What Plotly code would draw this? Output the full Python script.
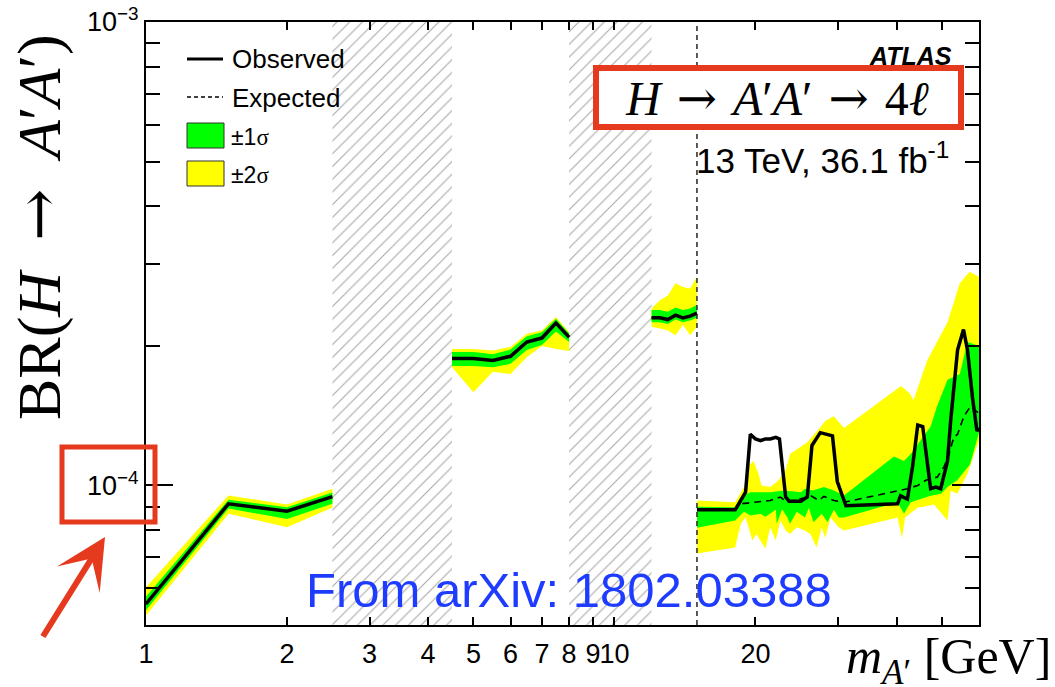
import math
import plotly.graph_objects as go

# ---------------- data ----------------
# segment 1 : 1 - 2.5 GeV
seg1_x = [1.0, 1.5, 2.0, 2.5]
seg1_obs = [5.55e-5, 9.13e-5, 8.80e-5, 9.46e-5]
seg1_exp = [5.55e-5, 9.13e-5, 8.80e-5, 9.46e-5]
seg1_g_up = [5.75e-5, 9.32e-5, 8.97e-5, 9.66e-5]
seg1_g_lo = [5.38e-5, 8.92e-5, 8.47e-5, 9.13e-5]
seg1_y_up = [6.03e-5, 9.52e-5, 9.10e-5, 9.84e-5]
seg1_y_lo = [5.24e-5, 8.69e-5, 8.13e-5, 8.96e-5]

# segment 2 : 4.5 - 8 GeV
seg2_x = [4.5, 5.0, 5.5, 6.0, 6.5, 7.0, 7.5, 8.0]
seg2_obs = [1.88e-4, 1.88e-4, 1.86e-4, 1.90e-4, 2.04e-4, 2.08e-4, 2.24e-4, 2.09e-4]
seg2_exp = [1.88e-4, 1.88e-4, 1.86e-4, 1.90e-4, 2.04e-4, 2.08e-4, 2.24e-4, 2.09e-4]
seg2_g_up = [1.94e-4, 1.94e-4, 1.92e-4, 1.965e-4, 2.10e-4, 2.14e-4, 2.29e-4, 2.13e-4]
seg2_g_lo = [1.81e-4, 1.81e-4, 1.80e-4, 1.83e-4, 1.96e-4, 2.01e-4, 2.15e-4, 2.04e-4]
seg2_y_up = [1.97e-4, 1.97e-4, 1.955e-4, 1.99e-4, 2.125e-4, 2.16e-4, 2.31e-4, 2.14e-4]
seg2_y_lo = [1.80e-4, 1.59e-4, 1.76e-4, 1.74e-4, 1.89e-4, 2.00e-4, 1.97e-4, 1.95e-4]

# segment 3 : 12 - 15 GeV
seg3_x = [12.0, 12.5, 13.0, 13.5, 14.0, 14.5, 15.0]
seg3_obs = [2.30e-4, 2.30e-4, 2.28e-4, 2.33e-4, 2.30e-4, 2.32e-4, 2.355e-4]
seg3_exp = [2.30e-4, 2.30e-4, 2.28e-4, 2.33e-4, 2.30e-4, 2.32e-4, 2.355e-4]
seg3_g_up = [2.39e-4, 2.39e-4, 2.37e-4, 2.42e-4, 2.39e-4, 2.41e-4, 2.45e-4]
seg3_g_lo = [2.25e-4, 2.25e-4, 2.23e-4, 2.28e-4, 2.25e-4, 2.27e-4, 2.30e-4]
seg3_y_up = [2.41e-4, 2.51e-4, 2.57e-4, 2.73e-4, 2.68e-4, 2.66e-4, 2.82e-4]
seg3_y_lo = [2.20e-4, 2.18e-4, 2.16e-4, 2.11e-4, 2.22e-4, 2.11e-4, 2.20e-4]

# segment 4 : 15 - 60 GeV
seg4_obs_x = [15.0, 18.1, 19.05, 19.5, 20.0, 20.5, 21.0, 21.5, 22.1, 22.5, 23.2, 23.6,
              25.0, 25.8, 26.4, 26.9, 27.5, 29.2, 29.9, 31.2, 40.2, 40.8, 42.2, 43.3,
              44.4, 45.5, 46.2, 47.3, 48.5, 49.7, 51.4, 52.2, 54.0, 55.6, 56.7, 58.1,
              59.4, 60.0]
seg4_obs = [8.86e-5, 8.86e-5, 9.67e-5, 1.29e-4, 1.26e-4, 1.25e-4, 1.26e-4, 1.26e-4,
            1.27e-4, 1.26e-4, 9.44e-5, 9.25e-5, 9.25e-5, 9.44e-5, 1.22e-4, 1.26e-4,
            1.30e-4, 1.28e-4, 1.02e-4, 9.04e-5, 9.13e-5, 9.50e-5, 9.34e-5, 1.10e-4,
            1.35e-4, 1.34e-4, 1.17e-4, 9.84e-5, 9.92e-5, 9.84e-5, 1.13e-4, 1.38e-4,
            1.96e-4, 2.17e-4, 1.96e-4, 1.55e-4, 1.31e-4, 1.33e-4]
seg4_exp_x = [15.0, 18.1, 18.6, 20.1, 21.5, 22.6, 23.4, 25.5, 26.2, 27.3, 28.0, 29.4,
              30.9, 40.5, 42.2, 44.4, 46.2, 48.9, 50.6, 51.8, 53.0, 54.0, 55.7, 57.5, 60.0]
seg4_exp = [8.86e-5, 8.86e-5, 9.13e-5, 9.20e-5, 9.28e-5, 9.44e-5, 9.20e-5, 9.41e-5,
            9.52e-5, 9.28e-5, 9.47e-5, 9.28e-5, 9.20e-5, 9.75e-5, 9.84e-5, 1.00e-4,
            1.026e-4, 1.043e-4, 1.10e-4, 1.17e-4, 1.27e-4, 1.29e-4, 1.41e-4, 1.48e-4, 1.43e-4]
seg4_g_up_x = [15.0, 18.1, 18.6, 19.5, 21.5, 23.0, 25.0, 25.5, 26.5, 28.0, 29.4, 30.9,
               39.5, 41.5, 42.9, 47.3, 48.8, 51.4, 54.6, 56.7, 60.0]
seg4_g_up = [9.00e-5, 8.97e-5, 9.44e-5, 9.67e-5, 9.67e-5, 9.75e-5, 9.67e-5, 9.84e-5,
             9.75e-5, 9.92e-5, 9.75e-5, 9.52e-5, 1.155e-4, 1.13e-4, 1.17e-4, 1.34e-4,
             1.48e-4, 1.69e-4, 1.74e-4, 2.04e-4, 2.00e-4]
seg4_g_lo_x = [15.0, 18.1, 18.9, 19.5, 20.5, 21.0, 22.1, 22.2, 22.8, 23.4, 23.7, 24.5,
               25.5, 26.0, 26.6, 27.7, 28.5, 29.4, 30.1, 30.9, 40.2, 41.5, 42.9, 45.7,
               47.3, 49.8, 51.4, 53.9, 57.4, 60.0]
seg4_g_lo = [8.11e-5, 8.40e-5, 8.78e-5, 8.61e-5, 8.69e-5, 8.56e-5, 8.86e-5, 8.27e-5,
             8.89e-5, 8.53e-5, 8.27e-5, 8.78e-5, 8.53e-5, 8.94e-5, 8.33e-5, 8.69e-5,
             8.33e-5, 8.86e-5, 8.53e-5, 8.53e-5, 9.20e-5, 8.69e-5, 9.20e-5, 9.40e-5,
             9.50e-5, 9.60e-5, 9.92e-5, 1.026e-4, 1.11e-4, 1.30e-4]
seg4_y_up_x = [15.0, 18.1, 18.9, 19.3, 19.8, 20.3, 20.6, 21.5, 22.4, 23.2, 23.7, 25.8,
               27.6, 28.2, 29.4, 30.9, 40.9, 42.7, 43.5, 46.5, 51.4, 54.6, 57.3, 60.0]
seg4_y_up = [9.28e-5, 9.20e-5, 9.92e-5, 1.10e-4, 1.13e-4, 1.06e-4, 1.00e-4, 9.92e-5,
             1.026e-4, 1.08e-4, 1.17e-4, 1.24e-4, 1.34e-4, 1.38e-4, 1.41e-4, 1.33e-4,
             1.64e-4, 1.58e-4, 1.53e-4, 1.86e-4, 2.25e-4, 2.73e-4, 2.89e-4, 2.82e-4]
seg4_y_lo_x = [15.0, 18.1, 18.6, 19.05, 19.7, 20.1, 21.0, 21.5, 22.1, 22.6, 23.2, 23.7,
               24.5, 25.5, 26.2, 27.0, 27.7, 28.2, 28.9, 30.1, 30.9, 40.2, 41.1, 41.7,
               44.4, 45.7, 48.1, 51.4, 52.2, 53.9, 56.7, 59.3, 60.0]
seg4_y_lo = [7.13e-5, 7.35e-5, 8.27e-5, 8.53e-5, 7.61e-5, 7.86e-5, 7.30e-5, 8.13e-5,
             7.61e-5, 8.40e-5, 8.00e-5, 7.86e-5, 8.13e-5, 8.00e-5, 7.86e-5, 7.35e-5,
             8.13e-5, 7.70e-5, 8.53e-5, 8.13e-5, 8.00e-5, 8.53e-5, 7.70e-5, 8.53e-5,
             8.96e-5, 9.00e-5, 9.10e-5, 8.40e-5, 9.75e-5, 9.60e-5, 1.06e-4, 1.21e-4, 1.25e-4]

# excluded (hatched) mass windows and the analysis boundary
hatch_from = [2.5, 8.0]
hatch_to = [4.5, 12.0]
boundary_mass = 15.0

# axes
x_range = [1.0, 60.0]
y_range = [5e-5, 1e-3]
x_tick_vals = [1, 2, 3, 4, 5, 6, 7, 8, 9, 10, 20, 30, 40, 50]
x_tick_text = ['1', '2', '3', '4', '5', '6', '7', '8', '9', '10', '20', '', '', '']
y_tick_vals = [1e-4, 1e-3]
y_tick_text = ['10<sup>\u22124</sup>', '10<sup>\u22123</sup>']
y_minor_vals = [6e-5, 7e-5, 8e-5, 9e-5, 2e-4, 3e-4, 4e-4, 5e-4, 6e-4, 7e-4, 8e-4, 9e-4]

# ---------------- helpers ----------------
W, H = 1055, 687
L, R, T, B = 146, 979, 22, 625


def px(x):
    return (x - L) / (R - L)


def py(y):
    return (B - y) / (B - T)


def joined(parts):
    xs, ys = [], []
    for x, y in parts:
        if xs:
            xs.append(None)
            ys.append(None)
        xs += list(x)
        ys += list(y)
    return xs, ys


def polygons(parts):
    xs, ys = [], []
    for xu, yu, xl, yl in parts:
        if xs:
            xs.append(None)
            ys.append(None)
        xs += list(xu) + list(reversed(xl))
        ys += list(yu) + list(reversed(yl))
    return xs, ys


SANS = 'Liberation Sans'
SERIF = 'Liberation Serif'
RED = '#e63a1f'
ARROW = '\u2004<span style="font-family:DejaVu Serif">\u2192</span>\u2004'
ARROW_Y = '\u2002<span style="font-family:DejaVu Serif">\u2192</span>\u2002'

fig = go.Figure()

# hatched excluded regions
hx, hy = [], []
for a, b in zip(hatch_from, hatch_to):
    if hx:
        hx.append(None)
        hy.append(None)
    hx += [a, b, b, a, a]
    hy += [y_range[0], y_range[0], y_range[1], y_range[1], y_range[0]]
fig.add_trace(go.Scatter(
    x=hx, y=hy, mode='lines', fill='toself', line=dict(width=0, color='rgba(0,0,0,0)'),
    fillcolor='white',
    fillpattern=dict(shape='/', fgcolor='#a8a8a8', bgcolor='white', size=9, solidity=0.12),
    hoverinfo='skip'))

# +-2 sigma band
yx, yy = polygons([
    (seg1_x, seg1_y_up, seg1_x, seg1_y_lo),
    (seg2_x, seg2_y_up, seg2_x, seg2_y_lo),
    (seg3_x, seg3_y_up, seg3_x, seg3_y_lo),
    (seg4_y_up_x, seg4_y_up, seg4_y_lo_x, seg4_y_lo),
])
fig.add_trace(go.Scatter(x=yx, y=yy, mode='lines', fill='toself', fillcolor='#ffff00',
                         line=dict(width=0, color='rgba(0,0,0,0)'), hoverinfo='skip'))

# +-1 sigma band
gx, gy = polygons([
    (seg1_x, seg1_g_up, seg1_x, seg1_g_lo),
    (seg2_x, seg2_g_up, seg2_x, seg2_g_lo),
    (seg3_x, seg3_g_up, seg3_x, seg3_g_lo),
    (seg4_g_up_x, seg4_g_up, seg4_g_lo_x, seg4_g_lo),
])
fig.add_trace(go.Scatter(x=gx, y=gy, mode='lines', fill='toself', fillcolor='#00ff00',
                         line=dict(width=0, color='rgba(0,0,0,0)'), hoverinfo='skip'))

# boundary dashed line
fig.add_trace(go.Scatter(x=[boundary_mass, boundary_mass], y=y_range, mode='lines',
                         line=dict(color='#333333', width=1.6, dash='5px,4px'),
                         hoverinfo='skip'))

# expected
ex, ey = joined([(seg1_x, seg1_exp), (seg2_x, seg2_exp), (seg3_x, seg3_exp),
                 (seg4_exp_x, seg4_exp)])
fig.add_trace(go.Scatter(x=ex, y=ey, mode='lines', connectgaps=False,
                         line=dict(color='black', width=1.6, dash='7px,5px')))

# observed
ox, oy = joined([(seg1_x, seg1_obs), (seg2_x, seg2_obs), (seg3_x, seg3_obs),
                 (seg4_obs_x, seg4_obs)])
fig.add_trace(go.Scatter(x=ox, y=oy, mode='lines', connectgaps=False,
                         line=dict(color='black', width=3.5)))

axis_common = dict(showline=True, linecolor='black', linewidth=2, mirror='allticks',
                   ticks='inside', tickcolor='black', tickwidth=1.5,
                   showgrid=False, zeroline=False, tickangle=0,
                   tickfont=dict(family=SANS, size=27, color='black'))

fig.update_xaxes(type='log', range=[math.log10(x_range[0]), math.log10(x_range[1])],
                 tickmode='array', tickvals=x_tick_vals, ticktext=x_tick_text,
                 ticklen=8, ticklabelstandoff=4, **axis_common)
fig.update_yaxes(type='log', range=[math.log10(y_range[0]), math.log10(y_range[1])],
                 tickmode='array', tickvals=y_tick_vals, ticktext=y_tick_text,
                 ticklen=27,
                 minor=dict(tickmode='array', tickvals=y_minor_vals, ticks='inside',
                            ticklen=14, tickcolor='black', tickwidth=1.5, showgrid=False),
                 **axis_common)

shapes = [
    # red box around 10^-4
    dict(type='rect', xref='paper', yref='paper', x0=px(62), x1=px(155), y0=py(522), y1=py(447),
         line=dict(color=RED, width=5), fillcolor='rgba(0,0,0,0)', layer='above'),
    # red box around the process label
    dict(type='rect', xref='paper', yref='paper', x0=px(596), x1=px(961), y0=py(127), y1=py(68),
         line=dict(color=RED, width=6), fillcolor='white', layer='above'),
    # legend
    dict(type='line', xref='paper', yref='paper', x0=px(187), x1=px(223), y0=py(59), y1=py(59),
         line=dict(color='black', width=3)),
    dict(type='line', xref='paper', yref='paper', x0=px(187), x1=px(223), y0=py(97), y1=py(97),
         line=dict(color='black', width=1.4, dash='4px,3px')),
    dict(type='rect', xref='paper', yref='paper', x0=px(187), x1=px(224), y0=py(148), y1=py(123),
         line=dict(color='#333333', width=1), fillcolor='#00ff00'),
    dict(type='rect', xref='paper', yref='paper', x0=px(187), x1=px(224), y0=py(186), y1=py(161),
         line=dict(color='#333333', width=1), fillcolor='#ffff00'),
]

annotations = [
    dict(text='BR(<i>H</i>' + ARROW_Y + '<i>A</i>\u2032<i>A</i>\u2032)', textangle=-90,
         x=px(38), y=py(227), font=dict(family=SERIF, size=62, color='black')),
    dict(text='<i>m</i><sub><i>A</i>\u2032</sub> [GeV]', xanchor='right',
         x=px(1053), y=py(660), font=dict(family=SERIF, size=50, color='black')),
    dict(text='Observed', xanchor='left', x=px(230), y=py(59),
         font=dict(family=SANS, size=26, color='black')),
    dict(text='Expected', xanchor='left', x=px(230), y=py(98),
         font=dict(family=SANS, size=26, color='black')),
    dict(text='\u00b11<span style="font-family:Liberation Serif">\u03c3</span>', xanchor='left',
         x=px(229), y=py(137), font=dict(family=SANS, size=23, color='black')),
    dict(text='\u00b12<span style="font-family:Liberation Serif">\u03c3</span>', xanchor='left',
         x=px(229), y=py(175), font=dict(family=SANS, size=23, color='black')),
    dict(text='<b><i>ATLAS</i></b>', xanchor='right', x=px(954), y=py(56),
         font=dict(family=SANS, size=25, color='black')),
    dict(text='<i>H</i>' + ARROW + '<i>A</i>\u2032<i>A</i>\u2032' + ARROW + '4<i>\u2113</i>',
         x=px(777), y=py(98), font=dict(family=SERIF, size=48, color='black')),
    dict(text='13 TeV, 36.1 fb<sup>-1</sup>', xanchor='left', x=px(694), y=py(158),
         font=dict(family=SANS, size=35, color='black')),
    dict(text='From arXiv: 1802.03388', xanchor='left', x=px(304), y=py(590),
         font=dict(family=SANS, size=49, color='#1e3cff')),
    dict(text='', x=px(105), y=py(537), showarrow=True, arrowhead=3, arrowsize=1.4,
         arrowwidth=6, arrowcolor=RED, ax=-63, ay=101, standoff=0),
]
for a in annotations:
    a.setdefault('xref', 'paper')
    a.setdefault('yref', 'paper')
    a.setdefault('showarrow', False)
    a.setdefault('xanchor', 'center')
    a.setdefault('yanchor', 'middle')

fig.update_layout(
    template='none',
    width=W, height=H,
    margin=dict(l=L, r=W - R, t=T, b=H - B, pad=0),
    paper_bgcolor='white', plot_bgcolor='white',
    showlegend=False,
    shapes=shapes,
    annotations=annotations,
)

fig.write_html('out.html')
